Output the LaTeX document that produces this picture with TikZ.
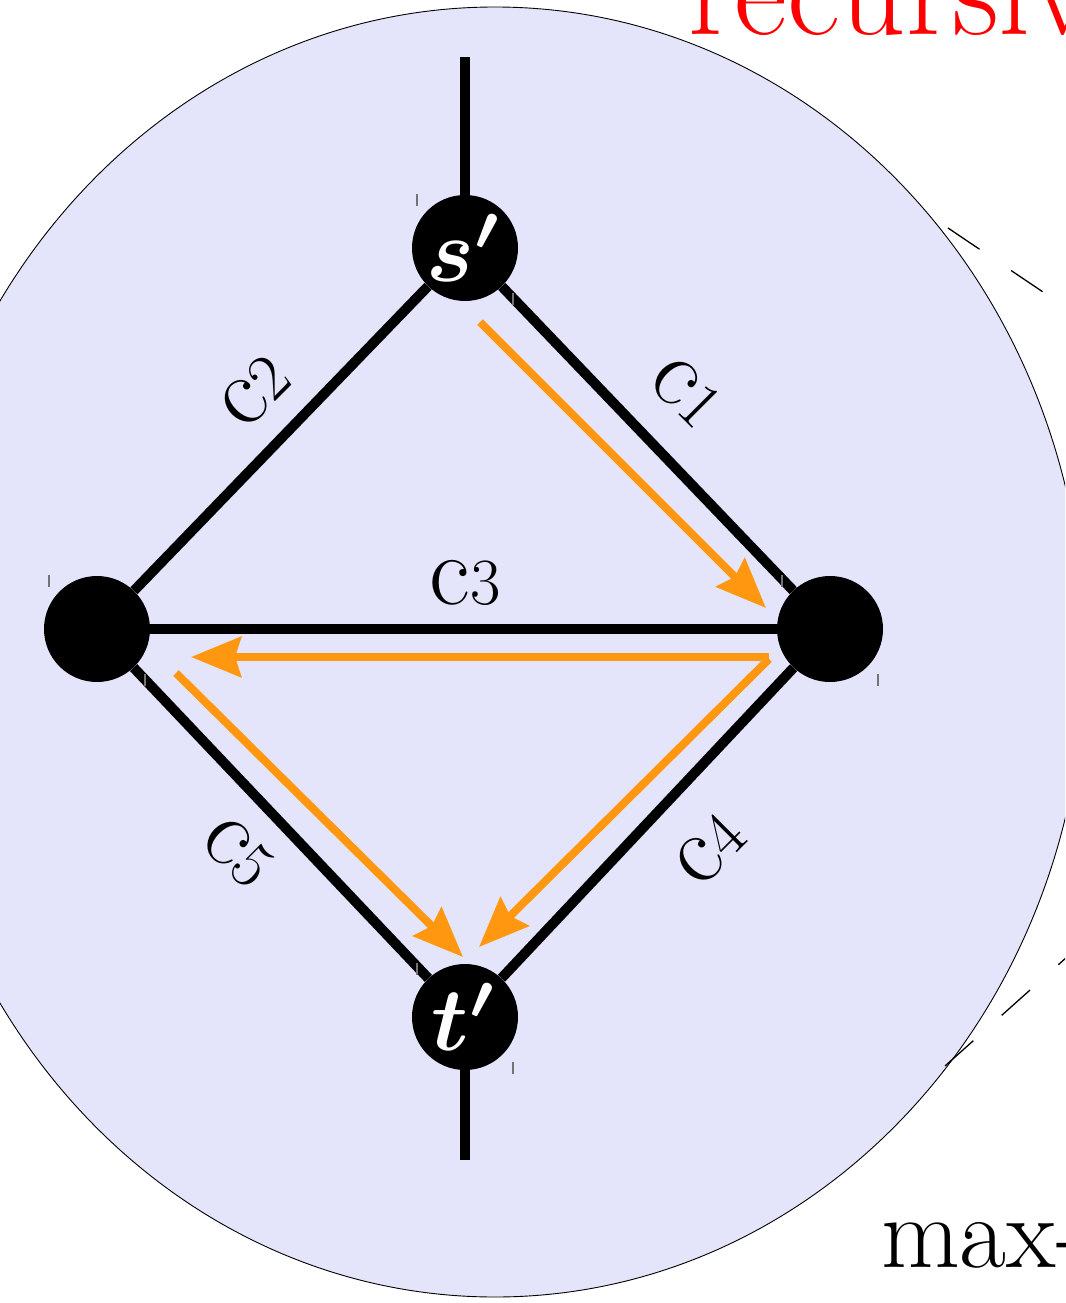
\documentclass[tikz,border=0pt]{standalone}
\usepackage{graphicx}
\usetikzlibrary{arrows.meta}
\definecolor{lav}{RGB}{228,228,251}
\definecolor{org}{RGB}{255,152,16}
\newcommand{\primelabel}[1]{\scalebox{9}{\boldmath$#1'$}}
\newcommand{\clabel}[1]{c{\fontsize{66}{70}\selectfont #1}}
\begin{document}
\begin{tikzpicture}[x=1pt,y=-1pt]
\tikzset{
  vertnode/.style={circle,fill=black,minimum size=106pt,inner sep=0pt,text=white},
  edgeline/.style={line width=10pt},
  flowarrow/.style={draw=org,line width=8pt,-{Stealth[length=50pt,width=40pt,inset=6pt]}},
  lbl/.style={font=\fontsize{100}{104}\selectfont,inner sep=0pt},
  tickmark/.style={draw=black!55,line width=1.3pt},
  zoomline/.style={draw=black,line width=1.3pt,dash pattern=on 38pt off 38pt}}
\useasboundingbox (0,0) rectangle (1065,1303);
\clip (0,0) rectangle (1065,1303);
\filldraw[fill=lav,draw=black,line width=0.9pt] (495,652) ellipse [x radius=590pt, y radius=645pt];
\node[vertnode] (l) at (97,629) {};
\node[vertnode] (r) at (830,629) {};
\node[vertnode] (s) at (465,248) {\primelabel{s}};
\node[vertnode] (t) at (465,1017) {\primelabel{t}};
\coordinate (za) at (948,228);
\coordinate (zb) at (1138,356);
\coordinate (zc) at (945,1066);
\coordinate (zd) at (1105,923);
\draw[zoomline] (za) -- (zb);
\draw[zoomline] (zc) -- (zd);
\coordinate (stop) at (465,57);
\coordinate (tbot) at (465,1160);
\draw[edgeline] (stop) -- (s);
\draw[edgeline] (t) -- (tbot);
\draw[edgeline] (s) -- (l);
\draw[edgeline] (s) -- (r);
\draw[edgeline] (l) -- (r);
\draw[edgeline] (l) -- (t);
\draw[edgeline] (r) -- (t);
\draw[tickmark] ([shift={(-48,-54)}]s.center) -- ++(0,12);
\draw[tickmark] ([shift={(48,45)}]s.center) -- ++(0,12);
\draw[tickmark] ([shift={(-48,-54)}]t.center) -- ++(0,12);
\draw[tickmark] ([shift={(48,45)}]t.center) -- ++(0,12);
\draw[tickmark] ([shift={(-48,-54)}]l.center) -- ++(0,12);
\draw[tickmark] ([shift={(48,45)}]l.center) -- ++(0,12);
\draw[tickmark] ([shift={(-48,-54)}]r.center) -- ++(0,12);
\draw[tickmark] ([shift={(48,45)}]r.center) -- ++(0,12);
\coordinate (f1a) at (480,322);
\coordinate (f1b) at (766,608);
\coordinate (f2a) at (769,657);
\coordinate (f2b) at (191,657);
\coordinate (f3a) at (769,659);
\coordinate (f3b) at (479,947);
\coordinate (f4a) at (176,673);
\coordinate (f4b) at (463,957);
\draw[flowarrow] (f1a) -- (f1b);
\draw[flowarrow] (f2a) -- (f2b);
\draw[flowarrow] (f3a) -- (f3b);
\draw[flowarrow] (f4a) -- (f4b);
\node[lbl,rotate=45] (c2) at (255,392) {\clabel{2}};
\node[lbl,rotate=-45] (c1) at (686,392) {\clabel{1}};
\node[lbl] (c3) at (465,583) {\clabel{3}};
\node[lbl,rotate=-45] (c5) at (238,852) {\clabel{5}};
\node[lbl,rotate=45] (c4) at (710,850) {\clabel{4}};
\node[anchor=base west,inner sep=0pt,text=red,font=\fontsize{130}{140}\selectfont] (rec) at (688,35) {recursive};
\node[anchor=base west,inner sep=0pt,font=\fontsize{102}{110}\selectfont] (mx) at (881,1267) {max-};
\end{tikzpicture}
\end{document}
